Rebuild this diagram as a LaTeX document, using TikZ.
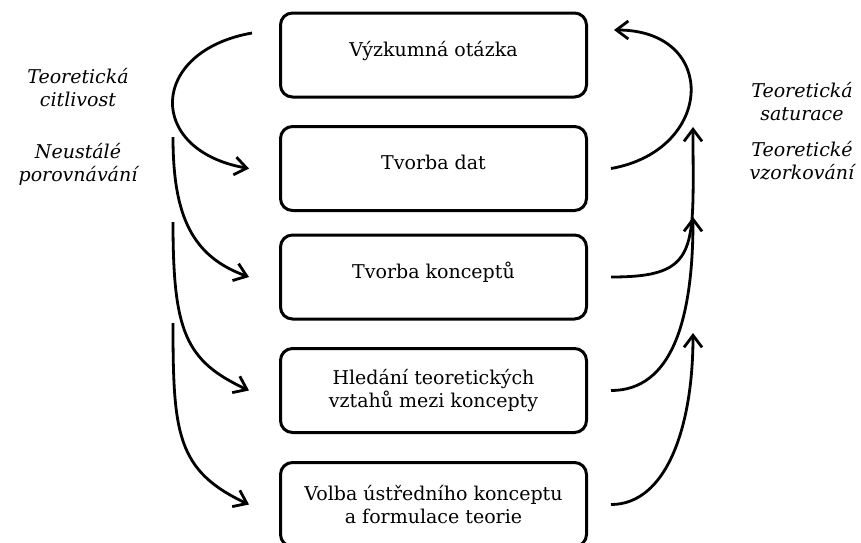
\documentclass[tikz,border=0pt]{standalone}
\usepackage{fontspec}
\setmainfont{DejaVu Serif}
\usetikzlibrary{arrows.meta}
\tikzset{
	krok/.style={draw,line width=1.5pt,rounded corners=6pt,minimum width=153pt,minimum height=42pt,align=center,font=\fontsize{9.5}{11.5}\selectfont},
	radek/.style={text height=7pt,text depth=6pt},
	sipka/.style={line width=1.4pt,-{Straight Barb[length=6pt,width=9pt]}},
	popis/.style={align=center,font=\fontsize{9.5}{11.5}\selectfont\itshape}
}
\begin{document}
\begin{tikzpicture}[x=0.5pt,y=0.5pt]
	\useasboundingbox (0,0) rectangle (861,-542);
	\node[krok,radek] (v1) at (433.5,-55) {Výzkumná otázka};
	\node[krok,radek] (v2) at (433.5,-168.5) {Tvorba dat};
	\node[krok,radek] (v3) at (433.5,-277) {Tvorba konceptů};
	\node[krok] (v4) at (433.5,-390.5) {Hledání teoretických\\vztahů mezi koncepty};
	\node[krok] (v5) at (433.5,-504.5) {Volba ústředního konceptu\\a formulace teorie};
	\node[popis] (citlivost) at (78,-88) {Teoretická\\citlivost};
	\node[popis] (porovnavani) at (78,-164) {Neustálé\\porovnávání};
	\node[popis] (saturace) at (802,-102) {Teoretická\\saturace};
	\node[popis] (vzorkovani) at (802,-161) {Teoretické\\vzorkování};
	\path (252,-33) coordinate (l1)
	(173,-137) coordinate (l2)
	(173,-222) coordinate (l3)
	(173,-323) coordinate (l4)
	(693,-127) coordinate (r3)
	(693,-217) coordinate (r4)
	(693,-333) coordinate (r5);
	% vlevo
	\foreach \z/\k/\a/\r/\b/\s in {l1/v2/190/105/170/105,l2/v3/270/80/160/60,l3/v4/270/110/155/70,l4/v5/270/110/155/80}{
		\draw[sipka] (\z) .. controls +(\a:\r) and +(\b:\s) .. ([xshift=-15pt]\k.west);
	}
	% vpravo
	\draw[sipka] ([xshift=11.5pt]v2.east) .. controls +(10:105) and +(0:105) .. ([shift={(13pt,12.5pt)}]v1.east);
	\foreach \k/\a/\b in {3/90/123,4/60/105,5/55/95}{
		\draw[sipka] ([xshift=11.5pt]v\k.east) .. controls +(\a,0) and +(0,-\b) .. (r\k);
	}
\end{tikzpicture}
\end{document}
